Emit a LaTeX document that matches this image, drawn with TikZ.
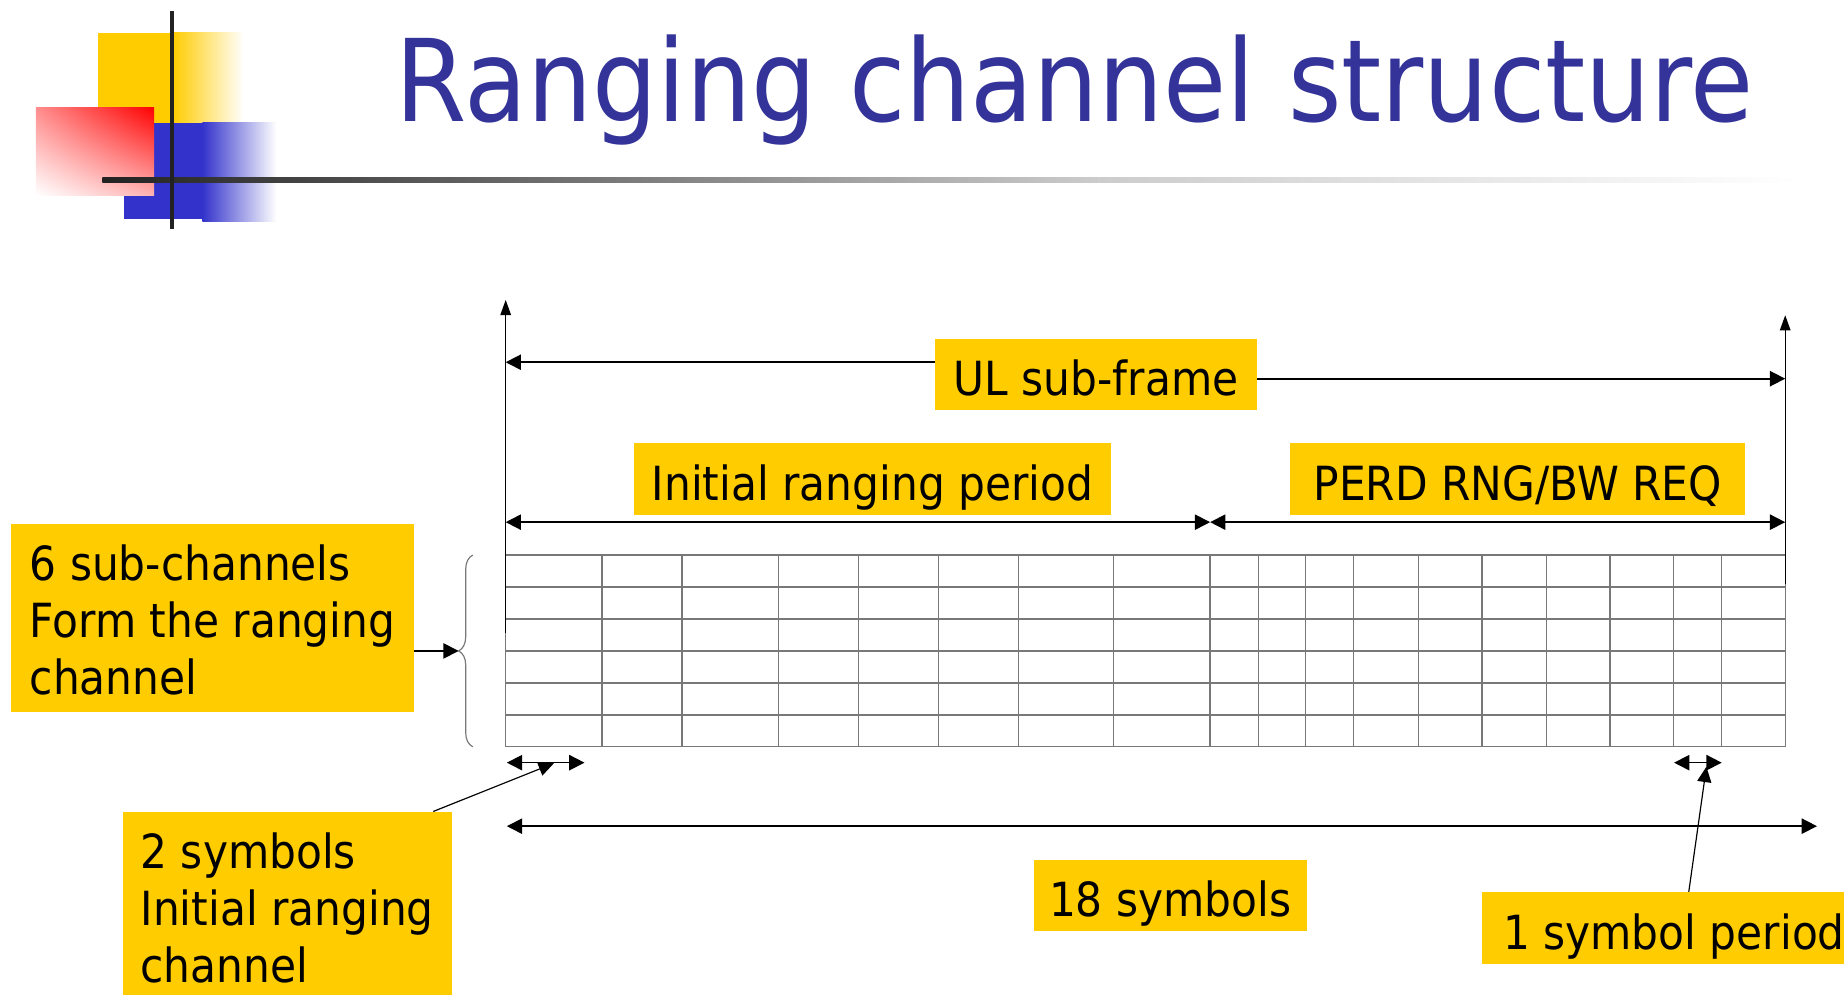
\documentclass[tikz,border=0pt]{standalone}
\usepackage{fontspec}
\setmainfont{DejaVu Sans}[FakeStretch=0.9]
\usetikzlibrary{positioning,arrows.meta,decorations.pathreplacing,shadings}
\definecolor{boxyellow}{RGB}{255,204,0}
\definecolor{titleblue}{RGB}{51,51,153}
\definecolor{logoblue}{RGB}{51,51,204}
\definecolor{logored}{RGB}{255,0,0}
\definecolor{gridgray}{RGB}{120,120,120}
\definecolor{bargray}{RGB}{34,34,34}

\begin{document}
\begin{tikzpicture}[x=1pt ,y=-1pt ,
lbl/.style ={ fill=boxyellow ,inner sep=0pt ,font=\fontsize{40}{48.5}\selectfont ,
text height=36pt ,text depth=0pt ,minimum height=61pt},
multi/.style ={ fill=boxyellow ,inner xsep=15pt ,inner ysep=0pt ,align=left ,
font=\fontsize{40}{48.5}\selectfont ,anchor=north west ,text depth=0pt},
darr/.style ={ {Triangle[length=13pt,width=13pt]}-{Triangle[length=13pt,width=13pt]} ,line width=1.4pt},
arr/.style ={ -{Triangle[length=13pt,width=13pt]} ,line width=1.4pt},
ptr/.style ={ -{Triangle[length=13pt,width=12pt]} ,line width=1pt},
axis/.style ={ -{Triangle[length=13pt,width=9pt]} ,line width=1.2pt},
cell/.style ={ gridgray ,line width=1.2pt}]
\useasboundingbox (0,0) rectangle (1568,847);
\fill[boxyellow] (83,28) rectangle (148,104.5);
\shade[left color=boxyellow ,right color=white] (147,28) rectangle (207,104.5);
\fill[logoblue] (105.5,104.5) rectangle (173,186);
\shade[left color=logoblue ,right color=white] (172,104.5) rectangle (235,188);
\shade[upper right=logored ,upper left=red!45 ,lower right=red!30 ,lower left=white] (30.6,91) rectangle (131,166);
\shade[left color=bargray ,right color=black!20] (87,150.8) rectangle (935,155.2);
\shade[left color=black!20 ,right color=white] (935,150.8) rectangle (1530,155.2);
\fill[bargray] (144.8,9.4) rectangle (148.2,194.7);
\node[anchor=base west ,inner sep=0pt ,text=titleblue ,font=\fontsize{97}{110}\selectfont] (T) at (336,103) {Ranging channel structure};
\foreach \x in {430,512,580,662,730,798,866,947,1029,1070,1110,1151,1206,1260,1315,1369,1423,1464,1518}
  \draw[cell] (\x,472) -- (\x,635);
\foreach \k in {0,...,6}
  \draw[cell] (430,{472+\k*163/6}) -- (1518,{472+\k*163/6});
\coordinate (L0) at (430,538);
\coordinate (L1) at (430,255);
\coordinate (R0) at (1518,497);
\coordinate (R1) at (1518,268);
\draw[axis] (L0) -- (L1);
\draw[axis] (R0) -- (R1);
\node[lbl ,minimum width=274pt] (UL) at (932,318.5) {UL sub-frame};
\coordinate (ULa) at (430,308);
\coordinate (ULb) at (1518,322);
\draw[arr] (UL.west |- ULa) -- (ULa);
\draw[arr] (UL.east |- ULb) -- (ULb);
\node[lbl ,minimum width=406pt] (IR) at (742,407.5) {Initial ranging period};
\node[lbl ,minimum width=387pt] (PR) at (1290.5,407.5) {PERD RNG/BW REQ};
\coordinate (P0) at (430,444);
\coordinate (P1) at (1029,444);
\coordinate (P2) at (1518,444);
\draw[darr] (P0) -- (P1);
\draw[darr] (P1) -- (P2);
\node[multi ,minimum width=343pt ,minimum height=160pt ,text height=131pt] (SC) at (9,445) {6 sub-channels\\Form the ranging\\channel};
\draw[gridgray ,line width=1pt ,decorate ,decoration={brace ,amplitude=12pt}] (402,635) -- (402,472);
\coordinate (B) at (390,553.5);
\draw[arr] (SC.east |- B) -- (B);
\node[multi ,minimum width=280pt ,minimum height=156pt ,text height=135pt] (S2) at (104,690) {2 symbols\\Initial ranging\\channel};
\coordinate (A0) at (431,648.5);
\coordinate (A1) at (497,648.5);
\coordinate (A2) at (471,649);
\draw[darr] (A0) -- (A1);
\draw[ptr] ([xshift=-16pt]S2.north east) -- (A2);
\node[lbl ,minimum width=232pt] (S18) at (995,761.5) {18 symbols};
\coordinate (E0) at (431,702.5);
\coordinate (E1) at (1545,702.5);
\draw[darr] (E0) -- (E1);
\node[lbl ,anchor=west ,inner xsep=18pt] (S1) at (1260,789) {1 symbol period};
\coordinate (C0) at (1423.5,648.5);
\coordinate (C1) at (1464,648.5);
\coordinate (C2) at (1451,652);
\draw[darr] (C0) -- (C1);
\draw[ptr] ([xshift=176pt]S1.north west) -- (C2);
\end{tikzpicture}
\end{document}
